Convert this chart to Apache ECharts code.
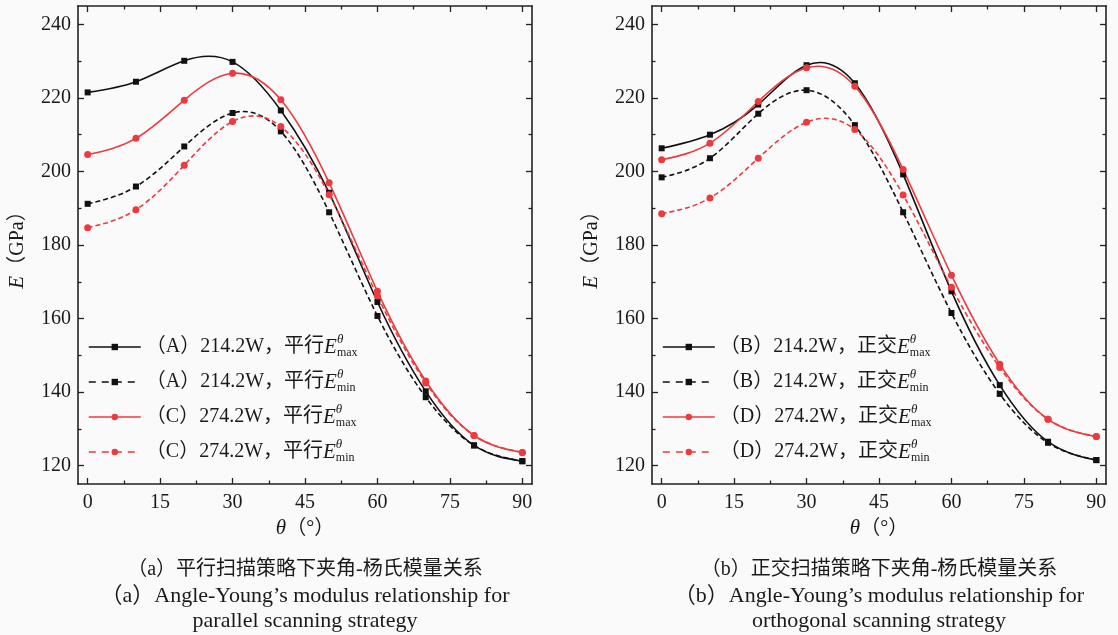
<!DOCTYPE html>
<html>
<head>
<meta charset="utf-8">
<script src="https://cdn.jsdelivr.net/npm/echarts@6/dist/echarts.min.js"></script>
<style>
html,body{margin:0;padding:0;background:#fafafa;}
#c{width:1118px;height:635px;}
</style>
</head>
<body>
<div id="c"></div>
<script>
// ---- data ----
const theta = [0, 10, 20, 30, 40, 50, 60, 70, 80, 90];
// (a) parallel scanning
const A_max = [221.5, 224.4, 230.1, 229.8, 216.6, 194.2, 164.5, 140.2, 125.5, 121.2];
const A_min = [191.2, 195.9, 206.8, 215.9, 210.9, 188.9, 160.7, 138.6, 125.5, 121.2];
const C_max = [204.6, 209.0, 219.4, 226.7, 219.5, 196.9, 167.4, 143.0, 128.2, 123.6];
const C_min = [184.7, 189.6, 201.7, 213.6, 212.2, 193.7, 166.1, 142.5, 128.2, 123.6];
// (b) orthogonal scanning
const B_max = [206.3, 210.0, 218.2, 228.9, 224.0, 199.2, 167.4, 141.9, 126.5, 121.5];
const B_min = [198.4, 203.6, 215.7, 222.1, 212.6, 188.9, 161.5, 139.5, 126.2, 121.5];
const D_max = [203.2, 207.7, 219.0, 228.2, 223.2, 200.5, 171.8, 147.6, 132.6, 127.9];
const D_min = [188.5, 192.8, 203.6, 213.4, 211.4, 193.6, 168.5, 146.7, 132.6, 127.9];

const xMajor = [0, 15, 30, 45, 60, 75, 90];
const xMinor = [7.5, 22.5, 37.5, 52.5, 67.5, 82.5];
const yMajor = [120, 140, 160, 180, 200, 220, 240];
const yMinor = [130, 150, 170, 190, 210, 230];

const legendA = ['（A）214.2W，平行', '（A）214.2W，平行', '（C）274.2W，平行', '（C）274.2W，平行'];
const legendB = ['（B）214.2W，正交', '（B）214.2W，正交', '（D）274.2W，正交', '（D）274.2W，正交'];
const subs = ['max', 'min', 'max', 'min'];

const captionA = ['（a）平行扫描策略下夹角-杨氏模量关系', '（a）Angle-Young’s modulus relationship for', 'parallel scanning strategy'];
const captionB = ['（b）正交扫描策略下夹角-杨氏模量关系', '（b）Angle-Young’s modulus relationship for', 'orthogonal scanning strategy'];

// ---- styles ----
const FONT = "'Liberation Serif', 'Noto Sans CJK SC', serif";
const TXT = '#1a1a1a';
const BLACK = '#111111';
const RED = '#ec3a3f';
const XMIN = -2, XMAX = 92, YMIN = 115, YMAX = 245;

const grids = [
  {left: 78, top: 6, width: 454, height: 478},
  {left: 652, top: 6, width: 454, height: 478}
];

const lineAx = {show: true, onZero: false, lineStyle: {color: '#222', width: 1.6}};
const tickLS = {color: '#222', width: 1.3};

function xAxes(g) {
  return [
    {type: 'value', gridIndex: g, position: 'bottom', min: XMIN, max: XMAX,
     axisLine: lineAx, splitLine: {show: false},
     axisTick: {inside: true, length: 6, customValues: xMajor, lineStyle: tickLS},
     axisLabel: {customValues: xMajor, fontFamily: FONT, fontSize: 20, color: TXT, margin: 9},
     name: '{i|θ}{n|（°）}', nameLocation: 'middle', nameGap: 32,
     nameTextStyle: {fontFamily: FONT, fontSize: 20, color: TXT,
       rich: {i: {fontFamily: FONT, fontStyle: 'italic', fontSize: 21, color: TXT}, n: {fontFamily: FONT, fontSize: 20, color: TXT}}}},
    {type: 'value', gridIndex: g, position: 'bottom', min: XMIN, max: XMAX,
     axisLine: {show: false, onZero: false}, splitLine: {show: false}, axisLabel: {show: false},
     axisTick: {inside: true, length: 3.5, customValues: xMinor, lineStyle: tickLS}},
    {type: 'value', gridIndex: g, position: 'top', min: XMIN, max: XMAX,
     axisLine: lineAx, splitLine: {show: false}, axisLabel: {show: false},
     axisTick: {inside: true, length: 6, customValues: xMajor, lineStyle: tickLS}},
    {type: 'value', gridIndex: g, position: 'top', min: XMIN, max: XMAX,
     axisLine: {show: false, onZero: false}, splitLine: {show: false}, axisLabel: {show: false},
     axisTick: {inside: true, length: 3.5, customValues: xMinor, lineStyle: tickLS}}
  ];
}
function yAxes(g) {
  return [
    {type: 'value', gridIndex: g, position: 'left', min: YMIN, max: YMAX,
     axisLine: lineAx, splitLine: {show: false},
     axisTick: {inside: true, length: 6, customValues: yMajor, lineStyle: tickLS},
     axisLabel: {customValues: yMajor, fontFamily: FONT, fontSize: 20, color: TXT, margin: 7},
     name: '{i|E}{n|（GPa）}', nameLocation: 'middle', nameGap: 50,
     nameTextStyle: {fontFamily: FONT, fontSize: 20, color: TXT,
       rich: {i: {fontFamily: FONT, fontStyle: 'italic', fontSize: 21, color: TXT}, n: {fontFamily: FONT, fontSize: 20, color: TXT}}}},
    {type: 'value', gridIndex: g, position: 'left', min: YMIN, max: YMAX,
     axisLine: {show: false, onZero: false}, splitLine: {show: false}, axisLabel: {show: false},
     axisTick: {inside: true, length: 3.5, customValues: yMinor, lineStyle: tickLS}},
    {type: 'value', gridIndex: g, position: 'right', min: YMIN, max: YMAX,
     axisLine: lineAx, splitLine: {show: false}, axisLabel: {show: false},
     axisTick: {inside: true, length: 6, customValues: yMajor, lineStyle: tickLS}},
    {type: 'value', gridIndex: g, position: 'right', min: YMIN, max: YMAX,
     axisLine: {show: false, onZero: false}, splitLine: {show: false}, axisLabel: {show: false},
     axisTick: {inside: true, length: 3.5, customValues: yMinor, lineStyle: tickLS}}
  ];
}

// natural cubic spline through pixel points -> SVG path data
function splinePath(p) {
  const n = p.length;
  if (n < 2) return '';
  const M = new Array(n).fill(0);
  if (n > 2) {
    const a = [], b = [], c = [], d = [];
    for (let i = 1; i < n - 1; i++) {
      const h0 = p[i][0] - p[i - 1][0], h1 = p[i + 1][0] - p[i][0];
      a.push(h0 / 6); b.push((h0 + h1) / 3); c.push(h1 / 6);
      d.push((p[i + 1][1] - p[i][1]) / h1 - (p[i][1] - p[i - 1][1]) / h0);
    }
    const m = b.length;
    for (let i = 1; i < m; i++) {
      const w = a[i] / b[i - 1];
      b[i] -= w * c[i - 1]; d[i] -= w * d[i - 1];
    }
    const sol = new Array(m);
    sol[m - 1] = d[m - 1] / b[m - 1];
    for (let i = m - 2; i >= 0; i--) sol[i] = (d[i] - c[i] * sol[i + 1]) / b[i];
    for (let i = 0; i < m; i++) M[i + 1] = sol[i];
  }
  let s = 'M' + p[0][0] + ' ' + p[0][1];
  for (let i = 0; i < n - 1; i++) {
    const h = p[i + 1][0] - p[i][0];
    const sl = (p[i + 1][1] - p[i][1]) / h;
    const d0 = sl - h * (2 * M[i] + M[i + 1]) / 6;
    const d1 = sl + h * (M[i] + 2 * M[i + 1]) / 6;
    s += ' C' + (p[i][0] + h / 3) + ' ' + (p[i][1] + d0 * h / 3) + ' ' +
      (p[i + 1][0] - h / 3) + ' ' + (p[i + 1][1] - d1 * h / 3) + ' ' +
      p[i + 1][0] + ' ' + p[i + 1][1];
  }
  return s;
}

const seriesDefs = [
  {arrs: [A_max, A_min, C_max, C_min], labels: legendA},
  {arrs: [B_max, B_min, D_max, D_min], labels: legendB}
];
const styleDefs = [
  {color: BLACK, type: 'solid', dash: null, symbol: 'rect', size: 6},
  {color: BLACK, type: [5, 3], dash: [5, 3], symbol: 'rect', size: 6},
  {color: RED, type: 'solid', dash: null, symbol: 'circle', size: 7},
  {color: RED, type: [5, 3], dash: [5, 3], symbol: 'circle', size: 7}
];

const nameMap = {};
const series = [];
const legends = [];
seriesDefs.forEach((d, gi) => {
  const legendData = [];
  d.arrs.forEach((arr, k) => {
    const st = styleDefs[k];
    const nm = d.labels[k] + 'E_' + subs[k];
    nameMap[nm] = {t: d.labels[k], s: subs[k]};
    legendData.push(st.dash ? {name: nm, lineStyle: {type: [7, 6]}} : {name: nm});
    const pts = theta.map((t, i) => [t, arr[i]]);
    // smooth curve through the points (cubic spline), drawn via the axis scales
    series.push({
      type: 'custom', name: 'curve' + gi + '_' + k, coordinateSystem: 'cartesian2d',
      xAxisIndex: gi * 4, yAxisIndex: gi * 4, data: pts, z: 2 + k, silent: true,
      encode: {x: 0, y: 1},
      renderItem: function (params, api) {
        if (params.dataIndexInside !== 0) return {type: 'group', children: []};
        const px = [];
        for (let i = 0; i < params.dataInsideLength; i++) {
          px.push(api.coord([api.value(0, i), api.value(1, i)]));
        }
        return {type: 'path', shape: {pathData: splinePath(px)},
          style: {fill: null, stroke: st.color, lineWidth: 1.6, lineDash: st.dash}};
      }
    });
    // markers (and legend entry)
    series.push({
      type: 'line', name: nm, xAxisIndex: gi * 4, yAxisIndex: gi * 4,
      data: pts, symbol: st.symbol, symbolSize: st.size, showSymbol: true,
      lineStyle: {color: st.color, width: 1.6, type: st.type, opacity: 0},
      itemStyle: {color: st.color},
      z: 10 + k, animation: false
    });
  });
  legends.push({
    orient: 'vertical', left: grids[gi].left + 10, top: 333, padding: 0,
    itemWidth: 52, itemHeight: 8, itemGap: 7,
    data: legendData,
    lineStyle: {width: 1.6, opacity: 1},
    formatter: function (name) {
      const m = nameMap[name];
      return '{t|' + m.t + '}{e|E}{sup|θ}{sub|' + m.s + '}';
    },
    textStyle: {
      fontFamily: FONT, fontSize: 20, color: TXT, lineHeight: 28,
      rich: {
        t: {fontFamily: FONT, fontSize: 20, color: TXT, lineHeight: 28},
        e: {fontFamily: FONT, fontStyle: 'italic', fontSize: 21, color: TXT, lineHeight: 28},
        sup: {fontFamily: FONT, fontStyle: 'italic', fontSize: 13, color: TXT, width: 0, lineHeight: 13, verticalAlign: 'top'},
        sub: {fontFamily: FONT, fontSize: 12, color: TXT, lineHeight: 12, verticalAlign: 'bottom', padding: [0, 0, 2, 0]}
      }
    }
  });
});

const graphics = [];
[captionA, captionB].forEach((cap, gi) => {
  const cx = grids[gi].left + grids[gi].width / 2;
  const ys = [570, 596, 621];
  const sizes = [20, 22, 22];
  cap.forEach((t, i) => {
    graphics.push({type: 'text', x: cx, y: ys[i], style: {
      text: t, fontFamily: FONT, fontSize: sizes[i], fill: TXT, align: 'center', verticalAlign: 'middle'}});
  });
});

const chart = echarts.init(document.getElementById('c'), null, {renderer: 'canvas'});
chart.setOption({
  backgroundColor: '#fafafa',
  animation: false,
  grid: grids,
  xAxis: xAxes(0).concat(xAxes(1)),
  yAxis: yAxes(0).concat(yAxes(1)),
  legend: legends,
  series: series,
  graphic: graphics
});
</script>
</body>
</html>
